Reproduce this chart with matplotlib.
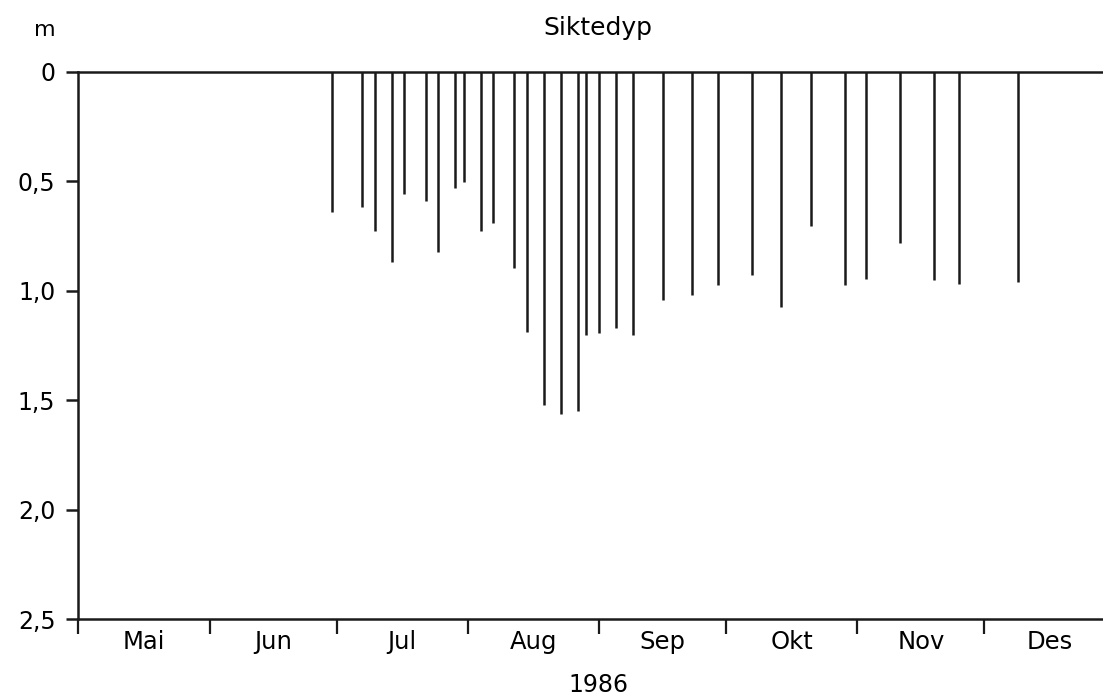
import matplotlib
matplotlib.use("Agg")
import matplotlib.pyplot as plt
import numpy as np

plt.rcParams['font.family'] = ['DejaVu Sans']

# Siktedyp 1986, day offsets counted from 1 May
months = ["Mai", "Jun", "Jul", "Aug", "Sep", "Okt", "Nov", "Des"]
month_days = [31, 30, 31, 31, 30, 31, 30, 31]
days = [60, 67, 70, 74, 77, 82, 85, 89, 91, 95, 98, 103, 106, 110, 114, 118,
        120, 123, 127, 131, 138, 145, 151, 159, 166, 173, 181, 186, 194, 202,
        208, 222]
depth = [0.64, 0.615, 0.725, 0.87, 0.56, 0.59, 0.825, 0.53, 0.505, 0.725,
         0.69, 0.895, 1.19, 1.52, 1.565, 1.55, 1.20, 1.195, 1.17, 1.20,
         1.04, 1.02, 0.975, 0.93, 1.075, 0.705, 0.975, 0.945, 0.78, 0.95,
         0.97, 0.96]
yticks = [0, 0.5, 1.0, 1.5, 2.0, 2.5]
ylabels = ["0", "0,5", "1,0", "1,5", "2,0", "2,5"]

starts = np.concatenate([[0], np.cumsum(month_days)[:-1]])
mids = starts + np.array(month_days) / 2

fig = plt.figure(figsize=(11.03, 7.0), dpi=100)
ax = fig.add_axes([0.071, 0.1157, 0.929, 0.7815])

ax.vlines(days, 0, depth, color="#1a1a1a", linewidth=1.8)

ax.set_xlim(0, 242)
ax.set_ylim(2.5, 0)

ax.spines["right"].set_visible(False)
for s in ["left", "top", "bottom"]:
    ax.spines[s].set_linewidth(1.8)
    ax.spines[s].set_color("#1a1a1a")

ax.set_yticks(yticks)
ax.set_yticklabels(ylabels, fontsize=17)
ax.tick_params(axis="y", direction="out", length=8.5, width=1.8, pad=8,
               color="#1a1a1a")

ax.set_xticks(starts)
ax.set_xticklabels([])
ax.set_xticks(mids, minor=True)
ax.set_xticklabels(months, minor=True, fontsize=17.5)
ax.tick_params(axis="x", which="major", direction="out", length=11, width=1.6,
               color="#1a1a1a")
ax.tick_params(axis="x", which="minor", length=0, pad=8)

fig.text(45 / 1103, 1 - 30 / 700, "m", fontsize=16, ha="center", va="center")
fig.text(598 / 1103, 1 - 28 / 700, "Siktedyp", fontsize=18, ha="center", va="center")
fig.text(598 / 1103, 1 - 685 / 700, "1986", fontsize=17, ha="center", va="center")

plt.savefig("out.png", dpi=100)
